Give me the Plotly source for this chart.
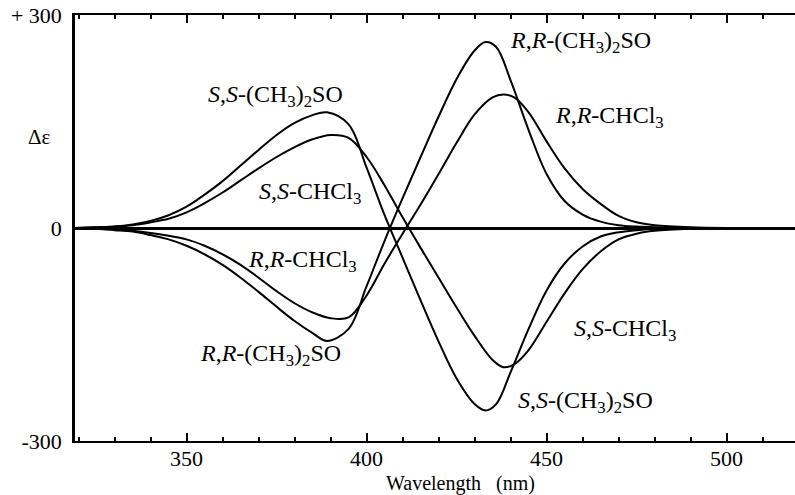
import plotly.graph_objects as go

# Wavelength grids (nm)
wl_dmso = [319, 325, 330, 335, 340, 345, 350, 355, 360, 365, 370, 375, 380, 385, 389, 395, 400, 405, 410, 415,
           420, 425, 430, 433, 436, 440, 445, 450, 455, 460, 465, 470, 475, 480, 490, 500, 519]
wl_chcl3 = [319, 325, 330, 335, 340, 345, 350, 355, 360, 365, 370, 375, 380, 385, 390, 395, 400, 405, 410, 415,
            420, 425, 430, 435, 438, 441, 445, 450, 455, 460, 465, 470, 475, 480, 490, 500, 519]

# Delta epsilon values
ss_dmso = [0, 1, 2, 5, 10, 18, 30, 47, 66, 88, 110, 131, 148, 159, 163, 146, 85, 18, -42, -102,
           -160, -212, -248, -257, -248, -203, -142, -88, -50, -26, -12, -6, -3, -1, 0, 0, 0]
rr_dmso = [0, -1, -3, -5, -10, -16, -25, -37, -52, -70, -90, -111, -131, -148, -159, -142, -82, -18, 42, 100,
           157, 210, 250, 262, 255, 208, 138, 76, 38, 19, 9, 4, 2, 1, 0, 0, 0]
ss_chcl3 = [0, 1, 2, 4, 8, 13, 22, 35, 50, 67, 84, 100, 114, 125, 131, 127, 100, 60, 15, -28,
            -70, -112, -152, -186, -196, -192, -172, -132, -92, -58, -33, -16, -8, -4, -1, 0, 0]
rr_chcl3 = [0, -1, -2, -4, -7, -11, -16, -25, -37, -52, -70, -89, -106, -119, -127, -126, -95, -50, -8, 33,
            76, 120, 160, 184, 188, 184, 163, 122, 84, 55, 34, 17, 8, 4, 1, 0, 0]

x_ticks = [350, 400, 450, 500]
y_ticks = [-300, 0, 300]
y_ticktext = ["-300", "0", "+ 300"]

labels = [
    ("<i>S</i>,<i>S</i>-(CH<sub>3</sub>)<sub>2</sub>SO", 374.6, 186),
    ("<i>S</i>,<i>S</i>-CHCl<sub>3</sub>", 384.3, 49),
    ("<i>R</i>,<i>R</i>-CHCl<sub>3</sub>", 382.3, -46),
    ("<i>R</i>,<i>R</i>-(CH<sub>3</sub>)<sub>2</sub>SO", 373.2, -179),
    ("<i>R</i>,<i>R</i>-(CH<sub>3</sub>)<sub>2</sub>SO", 459.3, 262),
    ("<i>R</i>,<i>R</i>-CHCl<sub>3</sub>", 467.6, 156),
    ("<i>S</i>,<i>S</i>-CHCl<sub>3</sub>", 471.8, -144),
    ("<i>S</i>,<i>S</i>-(CH<sub>3</sub>)<sub>2</sub>SO", 460.7, -245),
]

FONT = "Liberation Serif"

fig = go.Figure()
for wl, ys in [(wl_dmso, ss_dmso), (wl_dmso, rr_dmso), (wl_chcl3, ss_chcl3), (wl_chcl3, rr_chcl3)]:
    fig.add_trace(go.Scatter(x=wl, y=ys, mode="lines",
                             line=dict(color="black", width=2, shape="spline", smoothing=1.0),
                             showlegend=False, hoverinfo="skip"))

for text, x, y in labels:
    fig.add_annotation(x=x, y=y, text=text, showarrow=False, xanchor="center", yanchor="middle",
                       font=dict(family=FONT, size=24, color="black"))

fig.add_annotation(xref="paper", yref="paper", x=0.535, y=-0.0986, text="Wavelength&nbsp;&nbsp;&nbsp;(nm)",
                   showarrow=False, font=dict(family=FONT, size=20, color="black"),
                   xanchor="center", yanchor="middle")
fig.add_annotation(xref="paper", yref="paper", x=-0.049, y=0.714, text="Δε",
                   showarrow=False, font=dict(family=FONT, size=21, color="black"),
                   xanchor="center", yanchor="middle")

fig.update_layout(
    width=795, height=495,
    margin=dict(l=75, r=0, t=15, b=54),
    paper_bgcolor="white", plot_bgcolor="white",
    font=dict(family=FONT, size=22, color="black"),
    xaxis=dict(range=[319, 519], tickvals=x_ticks, ticks="inside", ticklen=8, tickwidth=2,
               tickcolor="black", showline=True, linecolor="black", linewidth=2, mirror="ticks",
               showgrid=False, zeroline=False, automargin=False, ticklabelstandoff=-3,
               minor=dict(dtick=10, tick0=0, ticks="inside", ticklen=4, tickwidth=2, tickcolor="black",
                          showgrid=False)),
    yaxis=dict(range=[-300, 300], tickvals=y_ticks, ticktext=y_ticktext, ticks="outside", ticklen=6,
               tickcolor="rgba(0,0,0,0)", showline=True, linecolor="black", linewidth=2.5,
               showgrid=False, zeroline=True, zerolinecolor="black", zerolinewidth=3, automargin=False),
)

fig.write_html("out.html", config={"displayModeBar": False},
               post_script="document.body.style.margin='0';document.body.style.overflow='hidden';")
